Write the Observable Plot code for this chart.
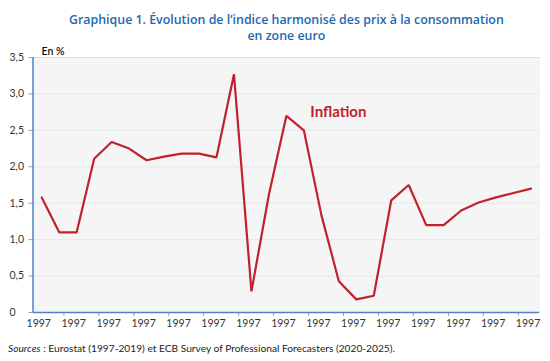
<!DOCTYPE html>
<html>
<head>
<meta charset="utf-8">
<script src="https://cdn.jsdelivr.net/npm/d3@7"></script>
<script src="https://cdn.jsdelivr.net/npm/@observablehq/plot@0.6"></script>
<style>
  html, body { margin: 0; padding: 0; background: #fff; }
  #chart svg { display: block; }
</style>
</head>
<body>
<div id="chart"></div>
<script>
const years = [1997, 1998, 1999, 2000, 2001, 2002, 2003, 2004, 2005, 2006,
               2007, 2008, 2009, 2010, 2011, 2012, 2013, 2014, 2015, 2016,
               2017, 2018, 2019, 2020, 2021, 2022, 2023, 2024, 2025];
const inflation = [1.58, 1.1, 1.1, 2.11, 2.34, 2.25, 2.09, 2.14, 2.18, 2.18,
                   2.13, 3.27, 0.29, 1.62, 2.7, 2.5, 1.34, 0.43, 0.18, 0.23,
                   1.54, 1.75, 1.2, 1.2, 1.4, 1.51, 1.58, 1.64, 1.7];
const xLabelYears = [1997, 1999, 2001, 2003, 2005, 2007, 2009, 2011, 2013, 2015,
                     2017, 2019, 2021, 2023, 2025];
const xTickLabels = ["1997", "1997", "1997", "1997", "1997", "1997", "1997", "1997",
                     "1997", "1997", "1997", "1997", "1997", "1997", "1997"];
const xTickYears = [1998, 2000, 2002, 2004, 2006, 2008, 2010, 2012, 2014, 2016,
                    2018, 2020, 2022, 2024];
const yTicks = [0, 0.5, 1, 1.5, 2, 2.5, 3, 3.5];
const yTickLabels = ["0", "0,5", "1,0", "1,5", "2,0", "2,5", "3,0", "3,5"];

const title1 = "Graphique 1. Évolution de l’indice harmonisé des prix à la consommation";
const title2 = "en zone euro";
const unit = "En %";
const seriesName = "Inflation";
const sourceLabel = "Sources";
const sourceText = " : Eurostat (1997-2019) et ECB Survey of Professional Forecasters (2020-2025).";

const rows = years.map((y, i) => ({year: y, value: inflation[i]}));

const FONT = "Lato, 'Open Sans', sans-serif";
const TFONT = "'Open Sans', Lato, sans-serif";
const RED = "#c0222c";
const BLUE = "#1f68b0";
const AXIS = "#4f82c4";

const chart = Plot.plot({
  width: 550,
  height: 361,
  marginLeft: 32.5,
  marginRight: 10.7,
  marginTop: 57,
  marginBottom: 49,
  style: {background: "#ffffff", fontFamily: FONT, fontSize: "10.5px", color: "#222"},
  x: {domain: [1996.5, 2025.5], axis: null, label: null},
  y: {domain: [0, 3.5], axis: null, label: null},
  marks: [
    Plot.frame({fill: "#f5f5f5", stroke: null}),
    Plot.gridY(yTicks.slice(1, -1), {stroke: "#e9e9e9", strokeOpacity: 1, strokeWidth: 1.2}),
    Plot.ruleY([3.5], {stroke: "#dedede", strokeWidth: 1.2}),
    Plot.axisY({ticks: yTicks, tickSize: 4, tickFormat: () => "", label: null, stroke: "#a0a0a0"}),
    Plot.text(yTicks, {y: d => d, text: (d, i) => yTickLabels[i], frameAnchor: "left",
      textAnchor: "start", dx: -23.5, fontSize: 10.5, fill: "#333"}),
    Plot.axisX({ticks: xTickYears, tickSize: 4, tickFormat: () => "", label: null, dx: 4.7, stroke: "#a0a0a0"}),
    Plot.text(xLabelYears, {x: d => d, text: (d, i) => xTickLabels[i], frameAnchor: "bottom",
      dy: 14, dx: -3, fontSize: 10.5, fill: "#333"}),
    Plot.ruleX([1996.5], {stroke: AXIS, strokeWidth: 1.5}),
    Plot.ruleY([0], {stroke: AXIS, strokeWidth: 1.5}),
    Plot.line(rows, {x: "year", y: "value", stroke: RED, strokeWidth: 2.2, strokeLinejoin: "miter"}),
    Plot.text([seriesName], {x: [2012.37], y: [2.75], text: d => d, textAnchor: "start",
      fill: RED, fontWeight: "bold", fontSize: 15}),
    Plot.text([unit], {frameAnchor: "top-left", text: d => d, textAnchor: "start",
      dx: 8.5, dy: -10, fontSize: 10.5, fontWeight: 600, fill: "#111"}),
    Plot.text([title1], {frameAnchor: "top", text: d => d, dy: -42.5, fontSize: 12.4,
      fontWeight: 600, fill: BLUE, fontFamily: TFONT}),
    Plot.text([title2], {frameAnchor: "top", text: d => d, dy: -26.5, fontSize: 12.4,
      fontWeight: 600, fill: BLUE, fontFamily: TFONT})
  ]
});

document.getElementById("chart").appendChild(chart);

const svg = d3.select(chart);
const cap = svg.append("text")
  .attr("x", 8).attr("y", 352)
  .attr("text-anchor", "start")
  .attr("font-family", FONT).attr("font-size", 10.2).attr("fill", "#222");
cap.append("tspan").attr("font-style", "italic").text(sourceLabel);
cap.append("tspan").text(sourceText);
</script>
</body>
</html>
